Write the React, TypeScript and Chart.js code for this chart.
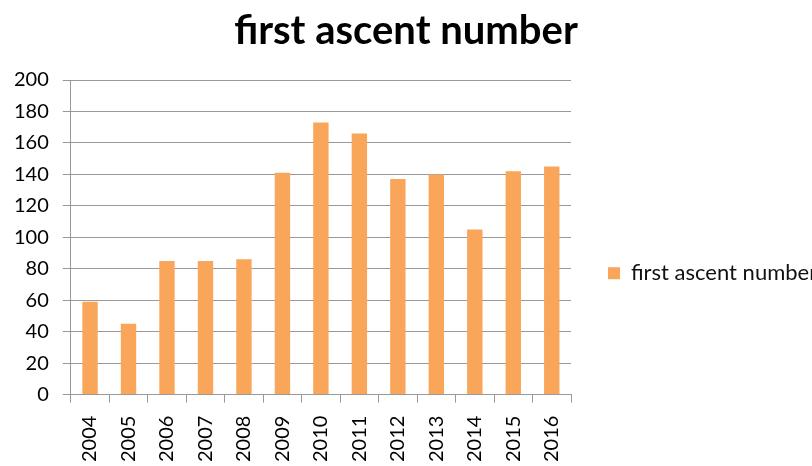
import React, { useEffect, useRef } from "react";
import { Chart, registerables } from "chart.js";

Chart.register(...registerables);

const categories = ["2004", "2005", "2006", "2007", "2008", "2009", "2010", "2011", "2012", "2013", "2014", "2015", "2016"];
const seriesName = "first ascent number";
const values = [59, 45, 85, 85, 86, 141, 173, 166, 137, 140, 105, 142, 145];
const chartTitle = "first ascent number";

export default function App() {
  const ref = useRef<HTMLCanvasElement | null>(null);
  useEffect(() => {
    document.body.style.margin = "0";
    document.body.style.overflow = "hidden";
    const ctx = ref.current!;
    const chart = new Chart(ctx, {
      type: "bar",
      data: {
        labels: categories,
        datasets: [
          {
            label: seriesName,
            data: values,
            backgroundColor: "#F9A65A",
            borderWidth: 0,
            categoryPercentage: 1,
            barPercentage: 0.4,
          },
        ],
      },
      options: {
        animation: false,
        responsive: false,
        layout: { padding: { left: 0, right: 0, top: 3, bottom: -9 } },
        plugins: {
          title: {
            display: true,
            text: chartTitle,
            color: "#000",
            font: { family: "Lato", size: 40, weight: "bold" },
            padding: { top: 4, bottom: 25 },
          },
          legend: {
            position: "right",
            maxWidth: 241,
            title: {
              display: true,
              text: " ",
              font: { size: 12 },
              padding: { top: 27, bottom: 27 },
            },
            labels: {
              boxWidth: 12,
              boxHeight: 12,
              color: "#111",
              font: { family: "Lato", size: 22 },
              padding: 37,
            },
          },
          tooltip: { enabled: false },
        },
        scales: {
          x: {
            grid: { drawOnChartArea: false, drawTicks: true, tickLength: 8, color: "#999", lineWidth: 1 },
            border: { color: "#999", width: 1 },
            ticks: { color: "#000", minRotation: 90, maxRotation: 90, font: { family: "Lato", size: 20 }, padding: 13 },
          },
          y: {
            min: 0,
            max: 200,
            grid: { color: "#999", lineWidth: 1, tickLength: 8 },
            border: { color: "#999", width: 1 },
            ticks: { stepSize: 20, color: "#000", font: { family: "Lato", size: 20 }, padding: 14 },
          },
        },
      },
    });
    return () => chart.destroy();
  }, []);
  return <canvas ref={ref} width={812} height={466} style={{ display: "block" }} />;
}
